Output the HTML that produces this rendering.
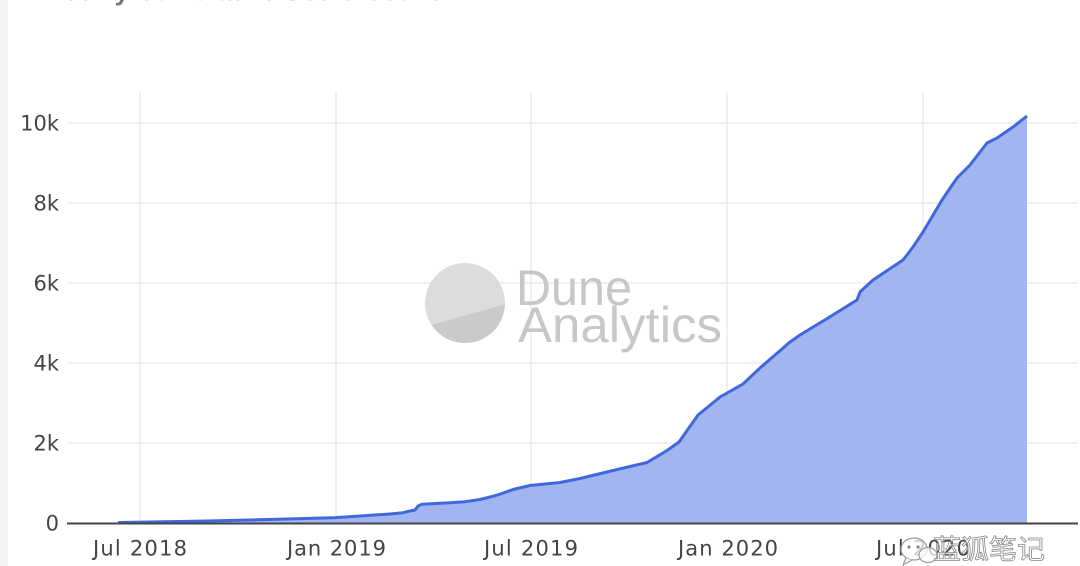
<!DOCTYPE html>
<html>
<head>
<meta charset="utf-8">
<style>
  html,body{margin:0;padding:0;background:#fff;}
  body{width:1080px;height:566px;overflow:hidden;position:relative;}
  svg{position:absolute;left:0;top:0;}
</style>
</head>
<body>
<svg width="1080" height="566" viewBox="0 0 1080 566" xmlns="http://www.w3.org/2000/svg">
  <!-- left grey strip -->
  <rect x="0" y="0" width="8" height="566" fill="#f3f3f3"/>
  <!-- cut-off title -->
  <text x="40" y="0" font-family="Liberation Sans, sans-serif" font-size="26" font-weight="bold" fill="#555" opacity="0.8">Weekly Cumulative Users Count</text>

  <!-- gridlines -->
  <g stroke="#ebebeb" stroke-width="1.5">
    <line x1="68" y1="123" x2="1078" y2="123"/>
    <line x1="68" y1="203" x2="1078" y2="203"/>
    <line x1="68" y1="283" x2="1078" y2="283"/>
    <line x1="68" y1="363" x2="1078" y2="363"/>
    <line x1="68" y1="443" x2="1078" y2="443"/>
    <line x1="140" y1="92" x2="140" y2="523"/>
    <line x1="336" y1="92" x2="336" y2="523"/>
    <line x1="531" y1="92" x2="531" y2="523"/>
    <line x1="727" y1="92" x2="727" y2="523"/>
    <line x1="923" y1="92" x2="923" y2="523"/>
  </g>

  <!-- area -->
  <path fill="#9fb3f1" fill-opacity="0.97" d="M118,523 L118,522.6 L150,522 L207,521 L250,520 L300,518.6 L336,517.6 L390,514 L403,512.7 L410,511 L415,510 L418,506 L422,504.2 L450,502.8 L465,501.7 L480,499.5 L496,495.5 L513,489.5 L530,485.5 L560,482.5 L580,478.5 L613,470.5 L647,462.5 L667,450.5 L679,442 L698,415 L720,397 L743,384 L760,368 L790,342 L800,335 L828,318 L857,300 L860,292 L873,280 L903,260 L913,247 L923,232 L942,200 L957,178 L970,165 L987,143 L997,138 L1013,127 L1027,116 L1027,523 Z"/>
  <!-- line -->
  <path fill="none" stroke="#4068dc" stroke-width="3" stroke-linejoin="round" d="M118,522.6 L150,522 L207,521 L250,520 L300,518.6 L336,517.6 L390,514 L403,512.7 L410,511 L415,510 L418,506 L422,504.2 L450,502.8 L465,501.7 L480,499.5 L496,495.5 L513,489.5 L530,485.5 L560,482.5 L580,478.5 L613,470.5 L647,462.5 L667,450.5 L679,442 L698,415 L720,397 L743,384 L760,368 L790,342 L800,335 L828,318 L857,300 L860,292 L873,280 L903,260 L913,247 L923,232 L942,200 L957,178 L970,165 L987,143 L997,138 L1013,127 L1027,116"/>

  <!-- zero axis -->
  <line x1="67" y1="523.5" x2="1078" y2="523.5" stroke="#444" stroke-width="2"/>

  <!-- Dune watermark -->
  <g opacity="0.9">
    <clipPath id="c"><circle cx="465" cy="303" r="40"/></clipPath>
    <circle cx="465" cy="303" r="40" fill="#d9d9d9"/>
    <polygon clip-path="url(#c)" points="420,328 510,303 510,350 420,350" fill="#c5c5c5"/>
    <text x="516" y="305" font-family="Liberation Sans, DejaVu Sans, sans-serif" font-size="50" fill="#c2c2c2" textLength="116" lengthAdjust="spacingAndGlyphs">Dune</text>
    <text x="518" y="342" font-family="Liberation Sans, DejaVu Sans, sans-serif" font-size="50" fill="#c2c2c2" textLength="204" lengthAdjust="spacingAndGlyphs">Analytics</text>
  </g>

  <!-- y labels -->
  <g font-family="DejaVu Sans, Verdana, sans-serif" font-size="21" fill="#444" text-anchor="end">
    <text x="59" y="130.5">10k</text>
    <text x="59" y="210.5">8k</text>
    <text x="59" y="290.5">6k</text>
    <text x="59" y="370.5">4k</text>
    <text x="59" y="450.5">2k</text>
    <text x="59" y="530.5">0</text>
  </g>
  <!-- x labels -->
  <g font-family="DejaVu Sans, Verdana, sans-serif" font-size="21" fill="#444">
    <text x="93" y="555.5" textLength="94" lengthAdjust="spacing">Jul 2018</text>
    <text x="287" y="555.5" textLength="99" lengthAdjust="spacing">Jan 2019</text>
    <text x="484" y="555.5" textLength="94" lengthAdjust="spacing">Jul 2019</text>
    <text x="678" y="555.5" textLength="100" lengthAdjust="spacing">Jan 2020</text>
    <text x="876" y="555.5" textLength="94" lengthAdjust="spacing">Jul 2020</text>
  </g>

  <!-- WeChat watermark -->
  <g>
    <ellipse cx="914" cy="549" rx="13" ry="11" fill="rgba(255,255,255,0.75)" stroke="#999" stroke-width="1.2"/>
    <path d="M906,558 L903,565 L912,560" fill="rgba(255,255,255,0.75)" stroke="#999" stroke-width="1.2"/>
    <circle cx="909" cy="547" r="1.6" fill="#888"/>
    <circle cx="918" cy="547" r="1.6" fill="#888"/>
    <ellipse cx="928" cy="555" rx="9" ry="7.5" fill="rgba(255,255,255,0.75)" stroke="#999" stroke-width="1.2"/>
    <text x="933" y="559" font-family="Noto Sans CJK SC, WenQuanYi Zen Hei, sans-serif" font-size="27" fill="rgba(255,255,255,0.6)" stroke="#8a8a8a" stroke-width="0.8" textLength="112" lengthAdjust="spacingAndGlyphs">蓝狐笔记</text>
  </g>
</svg>
</body>
</html>
